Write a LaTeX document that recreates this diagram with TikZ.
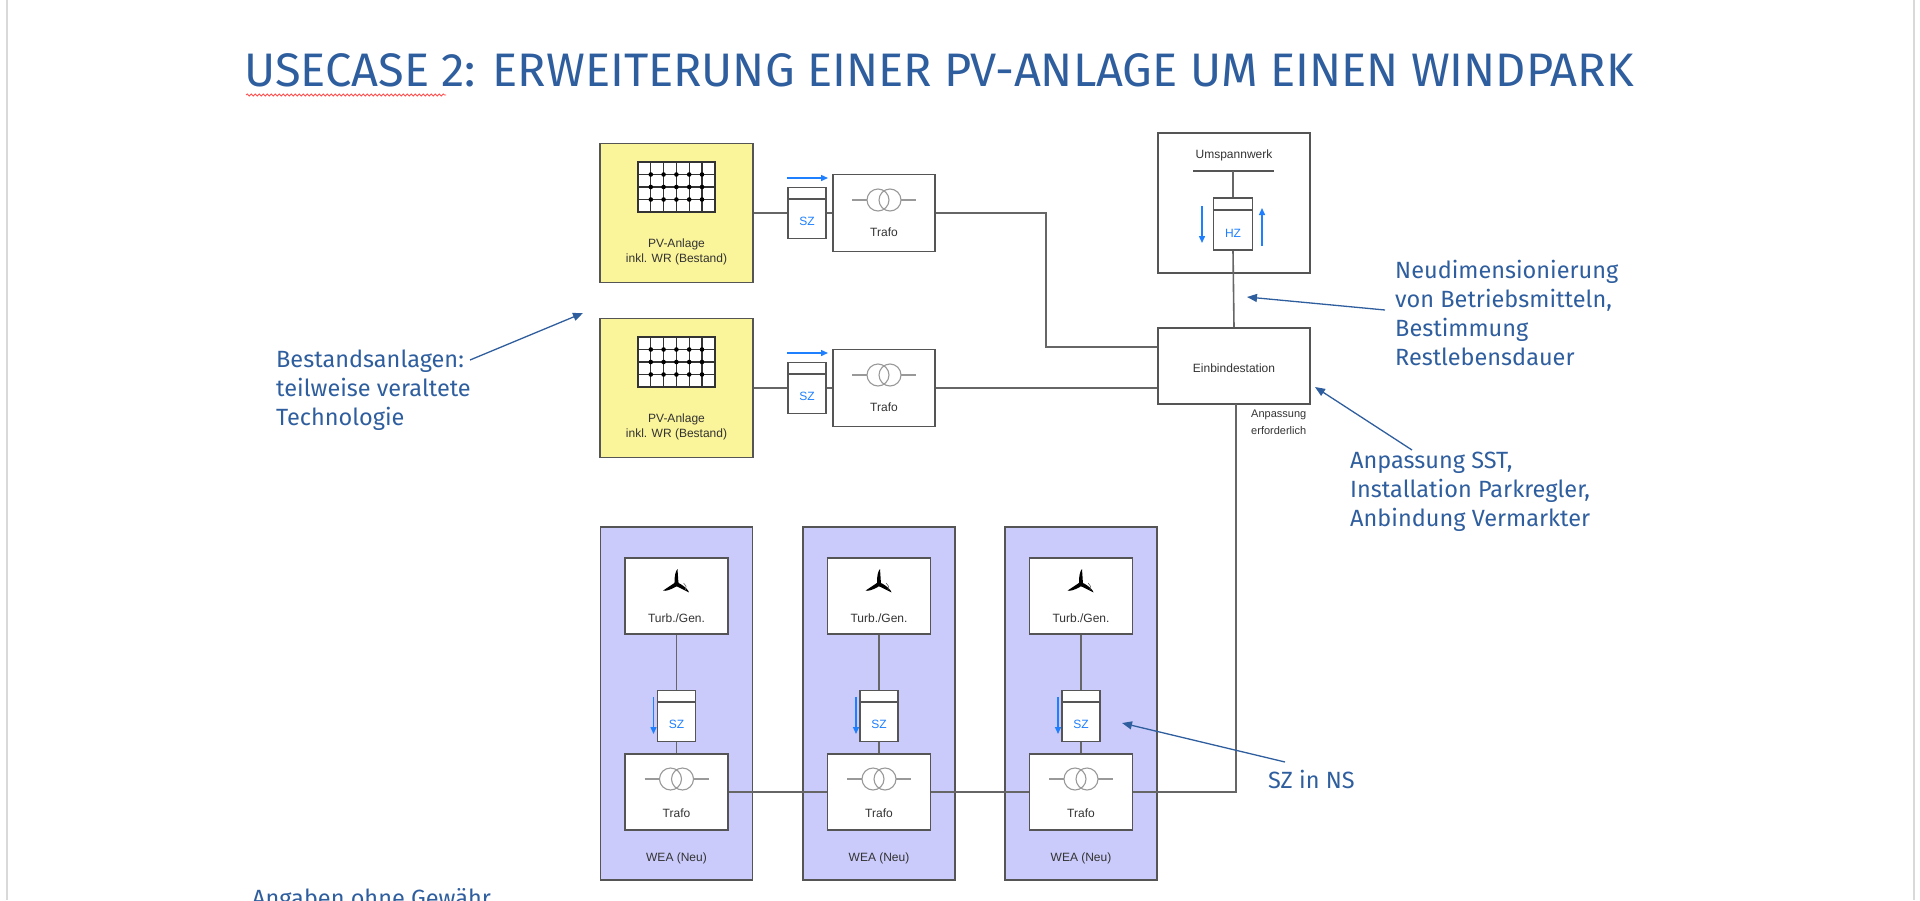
\documentclass[tikz,border=0pt]{standalone}
\usepackage{fontspec}
\setmainfont{Liberation Sans}
\newfontfamily\annf{Fira Sans}
\usetikzlibrary{arrows.meta,decorations.pathmorphing}
\definecolor{ann}{HTML}{2F5E9E}
\definecolor{mblue}{HTML}{1E7FFF}
\definecolor{frame}{HTML}{555555}
\definecolor{pvy}{HTML}{FAF49A}
\definecolor{wea}{HTML}{CACBFB}
\begin{document}
\begin{tikzpicture}[x=1pt,y=-1pt,
  box/.style={draw=frame,line width=1.6pt},
  wire/.style={draw=frame!90,line width=1.6pt},
  lbl/.style={font=\fontsize{12}{15}\selectfont,text=black!80,align=center},
  szl/.style={font=\fontsize{12}{14}\selectfont,text=mblue},
  annt/.style={font=\annf\fontsize{23.5}{29}\selectfont,text=ann,align=left,anchor=north west,inner sep=0pt},
  annarrow/.style={draw=ann,line width=1.3pt,-{Triangle[length=10pt,width=8pt]}},
  marrow/.style={draw=mblue,line width=1.4pt,-{Triangle[length=7pt,width=6pt]}}]
\useasboundingbox (0,0) rectangle (1920,900);
\clip (0,0) rectangle (1920,900);
\draw[black!15,line width=2pt] (7,0) -- (7,900);
\draw[black!15,line width=2pt] (1914,0) -- (1914,900);
% title
\node[font=\annf\fontsize{47}{50}\selectfont,text=ann,anchor=base west,inner sep=0pt] (title) at (244,86) {USECASE 2: ERWEITERUNG EINER PV-ANLAGE UM EINEN WINDPARK};
\draw[red!70,line width=0.8pt,decorate,decoration={snake,amplitude=1pt,segment length=4pt}] (246,95) -- (446,95);
% macros
\newcommand{\pvgrid}[2]{%
  \begin{scope}[shift={(#1,#2)}]
   \fill[white] (0,0) rectangle (77,50);
   \draw[black!80,line width=1.2pt] (0,0) rectangle (77,50);
   \foreach \x in {12.8,25.6,38.4,51.2,64} \draw[black!80,line width=1.2pt] (\x,0) -- (\x,50);
   \foreach \y in {12.5,25,37.5} \draw[black!80,line width=1.2pt] (0,\y) -- (77,\y);
   \foreach \x in {12.8,25.6,38.4,51.2,64} \foreach \y in {12.5,25,37.5} \fill (\x,\y) circle (2.3pt);
  \end{scope}}
\newcommand{\trafosym}[2]{%
  \begin{scope}[shift={(#1,#2)}]
   \draw[black!40,line width=1.1pt] (-32,0) -- (-17,0) (17,0) -- (32,0);
   \draw[black!40,line width=1.1pt] (-6,0) circle (11) (6,0) circle (11);
  \end{scope}}
\newcommand{\turbsym}[2]{%
  \begin{scope}[shift={(#1,#2)}]
   \fill[black] (0,0) circle (2.5);
   \foreach \a in {90,210,330} \fill[black,rotate=\a] (0,0) -- (2,-2) .. controls (8,-2) and (13,-1) .. (15,1) -- (0,2) -- cycle;
   \draw[black!60,line width=0.6pt] (9,6) arc (30:-60:5);
  \end{scope}}
\newcommand{\meter}[4]{% name, x, y, label
  \node[box,fill=white,minimum width=38pt,minimum height=51pt,inner sep=0pt] (#1) at (#2,#3) {};
  \draw[frame,line width=1.6pt] ([yshift=-12pt]#1.north west) -- ([yshift=-12pt]#1.north east);
  \node[szl] at ([yshift=-8pt]#1.center) {#4};}
% PV rows
\foreach \r/\y in {1/213,2/388}{
  \node[box,fill=pvy,minimum width=153pt,minimum height=139pt] (pv\r) at (676.5,\y) {};
  \pvgrid{638}{\y-51}
  \node[lbl] at (676.5,\y+39) {PV-Anlage\\inkl. WR (Bestand)};
  \meter{sz\r}{807}{\y}{SZ}
  \draw[marrow] (787,\y-35) -- (828,\y-35);
  \node[box,fill=white,minimum width=102pt,minimum height=77pt] (tr\r) at (884,\y) {};
  \trafosym{884}{\y-13}
  \node[lbl] at (884,\y+19) {Trafo};
  \draw[wire] (pv\r.east) -- (sz\r.west) (sz\r.east) -- (tr\r.west);
}
% Umspannwerk
\node[box,fill=white,minimum width=152pt,minimum height=140pt] (uw) at (1234,203) {};
\node[lbl] at (1234,155) {Umspannwerk};
\coordinate (bus) at (1233,171);
\draw[frame,line width=1.6pt] (1193,171) -- (1274,171);
\node[box,fill=white,minimum width=39pt,minimum height=52pt,inner sep=0pt] (hz) at (1233,224) {};
\draw[frame,line width=1.6pt] ([yshift=-13pt]hz.north west) -- ([yshift=-13pt]hz.north east);
\node[szl] at (1233,233) {HZ};
\draw[marrow] (1202,206) -- (1202,243);
\draw[marrow] (1262,246) -- (1262,208);
\draw[wire] (bus) -- (hz.north);
% Einbindestation
\node[box,fill=white,minimum width=152pt,minimum height=76pt] (eb) at (1234,366) {};
\node[lbl] at (1234,368) {Einbindestation};
\draw[wire] (hz.south) -- (eb.north);
\draw[wire] (tr1.east) -- (1046,213) -- (1046,347) -- (eb.west |- 0,347);
\draw[wire] (tr2.east) -- (eb.west |- 0,388);
\node[lbl,font=\fontsize{11}{17}\selectfont,anchor=north west,inner sep=0pt] at (1251,410) {Anpassung\\erforderlich};
% WEA
\foreach \i/\x in {1/676.5,2/879,3/1081}{
  \node[box,fill=wea,minimum width=152pt,minimum height=353pt] (w\i) at (\x,703.5) {};
  \node[lbl] at (\x,858) {WEA (Neu)};
  \node[box,fill=white,minimum width=103pt,minimum height=76pt] (tg\i) at (\x,596) {};
  \turbsym{\x}{584}
  \node[lbl] at (\x,618) {Turb./Gen.};
  \meter{wsz\i}{\x}{716}{SZ}
  \draw[marrow] (\x-23,697) -- (\x-23,734);
  \node[box,fill=white,minimum width=103pt,minimum height=76pt] (wt\i) at (\x,792) {};
  \trafosym{\x}{779}
  \node[lbl] at (\x,813) {Trafo};
  \draw[wire] (tg\i.south) -- (wsz\i.north) (wsz\i.south) -- (wt\i.north);
}
\draw[wire] (wt1.east) -- (wt2.west) (wt2.east) -- (wt3.west);
\draw[wire] (wt3.east) -- (1236,792) -- (1236,404);
% annotations
\node[annt] (a1) at (276,350) {Bestandsanlagen:\\teilweise veraltete\\Technologie};
\coordinate (a1e) at (583,313);
\draw[annarrow] (470,360) -- (a1e);
\node[annt] (a2) at (1395,260) {Neudimensionierung\\von Betriebsmitteln,\\Bestimmung\\Restlebensdauer};
\coordinate (a2e) at (1247,297);
\draw[annarrow] (1385,310) -- (a2e);
\node[annt] (a3) at (1350,452) {Anpassung SST,\\Installation Parkregler,\\Anbindung Vermarkter};
\coordinate (a3e) at (1315,387);
\draw[annarrow] (1412,450) -- (a3e);
\node[annt] (a4) at (1268,770) {SZ in NS};
\coordinate (a4e) at (1122,723);
\draw[annarrow] (1285,762) -- (a4e);
\node[annt,anchor=base west] (a5) at (252,906) {Angaben ohne Gewähr};
\end{tikzpicture}
\end{document}
